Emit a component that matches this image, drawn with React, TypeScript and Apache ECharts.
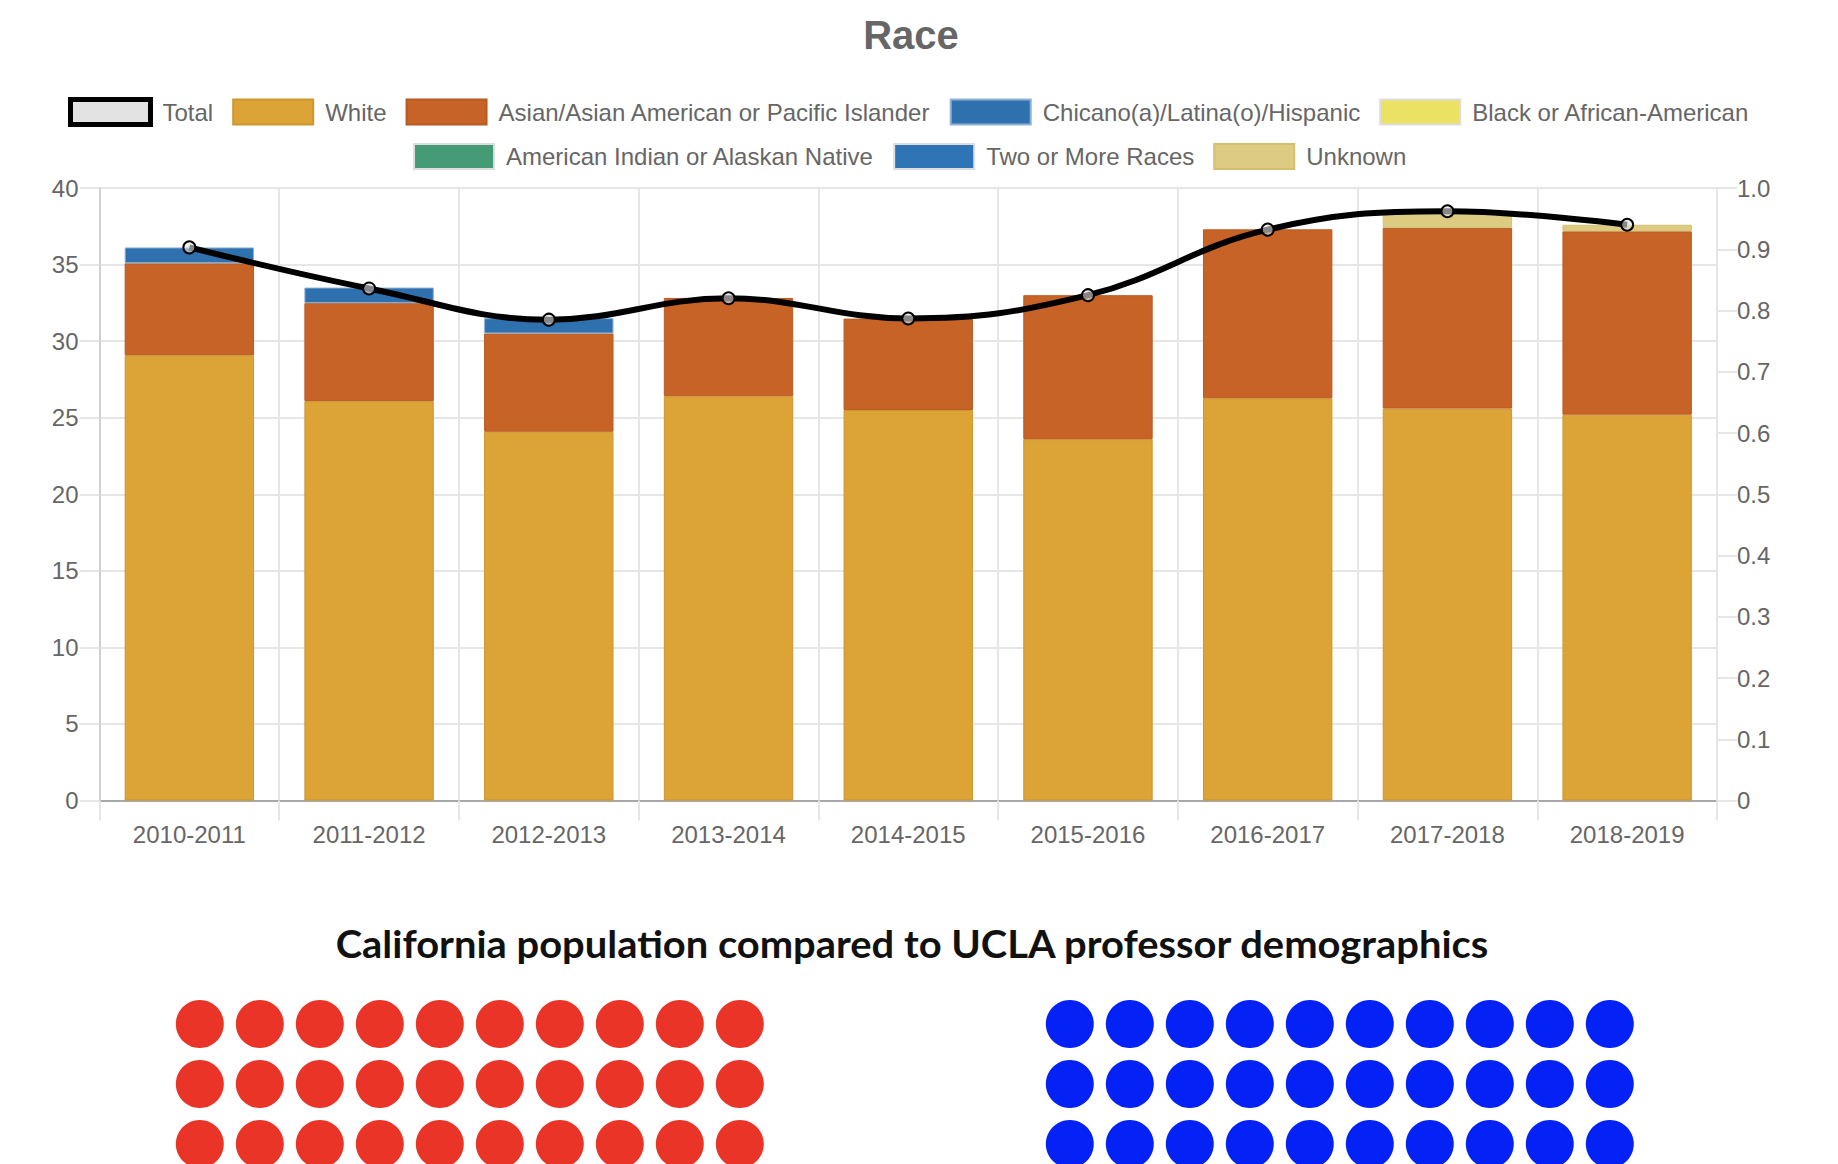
import React, { useEffect, useRef } from "react";
import * as echarts from "echarts";

// ---------- data ----------
const categories = [
  "2010-2011", "2011-2012", "2012-2013", "2013-2014", "2014-2015",
  "2015-2016", "2016-2017", "2017-2018", "2018-2019",
];
const white = [29.08, 26.08, 24.08, 26.4, 25.5, 23.6, 26.27, 25.6, 25.2];
const asian = [6.0, 6.4, 6.42, 6.42, 5.97, 9.4, 11.03, 11.8, 11.97];
const hispanic = [1.04, 1.02, 1.0, 0, 0, 0, 0, 0, 0];
const black = [0, 0, 0, 0, 0, 0, 0, 0, 0];
const amIndian = [0, 0, 0, 0, 0, 0, 0, 0, 0];
const twoOrMore = [0, 0, 0, 0, 0, 0, 0, 0, 0];
const unknown = [0, 0, 0, 0, 0, 0, 0, 1.04, 0.43];
const total = [0.903, 0.836, 0.785, 0.82, 0.787, 0.825, 0.932, 0.962, 0.94];

const leftAxis = { min: 0, max: 40, step: 5 };
const rightAxis = { min: 0, max: 1, step: 0.1 };

const chartTitle = "Race";
const lowerTitle = "California population compared to UCLA professor demographics";
const californiaDots = 30;
const professorDots = 30;
const dotsPerRow = 10;

// ---------- styling ----------
const FONT = "'Liberation Sans', Arial, Helvetica, sans-serif";
const GRID = "#e6e6e6";

const barDefs = [
  { name: "White", data: white, color: "#dca337", border: "#cf962c" },
  { name: "Asian/Asian American or Pacific Islander", data: asian, color: "#c76327", border: "#b95a22" },
  { name: "Chicano(a)/Latina(o)/Hispanic", data: hispanic, color: "#2f70ae", border: "#8fb2d4" },
  { name: "Black or African-American", data: black, color: "#ebe162", border: "#ddd" },
  { name: "American Indian or Alaskan Native", data: amIndian, color: "#449b76", border: "#ddd" },
  { name: "Two or More Races", data: twoOrMore, color: "#2f74b5", border: "#ddd" },
  { name: "Unknown", data: unknown, color: "#dccb80", border: "#d2c070" },
];

function dotData(count: number) {
  return Array.from({ length: count }, (_, i) => [i % dotsPerRow, Math.floor(i / dotsPerRow)]);
}

function buildOption() {
  const barSeries = barDefs.map((b) => ({
    type: "bar",
    name: b.name,
    stack: "race",
    xAxisIndex: 0,
    yAxisIndex: 0,
    barWidth: "72%",
    data: b.data.map((v) => (v === 0 ? null : v)),
    itemStyle: { color: b.color, borderColor: b.border, borderWidth: 1 },
    z: 2,
  }));

  const legendText = { fontSize: 24, color: "#666", fontFamily: FONT, padding: [0, 0, 0, 7] };

  return {
    animation: false,
    backgroundColor: "#ffffff",
    graphic: [
      {
        type: "text",
        x: 911,
        y: 35,
        style: {
          text: chartTitle,
          fontSize: 40,
          fontWeight: "bold",
          fontFamily: FONT,
          fill: "#666",
          align: "center",
          verticalAlign: "middle",
        },
      },
      {
        type: "text",
        x: 912,
        y: 943,
        scaleX: 1.05,
        style: {
          text: lowerTitle,
          fontSize: 38,
          fontWeight: "bold",
          fontFamily: "Lato, 'Open Sans', sans-serif",
          fill: "#111",
          align: "center",
          verticalAlign: "middle",
        },
      },
    ],
    legend: [
      {
        top: 97,
        left: 68,
        padding: 0,
        itemWidth: 80,
        itemHeight: 25,
        itemGap: 19,
        textStyle: legendText,
        data: [
          { name: "Total", icon: "rect", itemStyle: { color: "#e3e3e3", borderColor: "#000", borderWidth: 5 } },
          { name: barDefs[0].name, icon: "rect" },
          { name: barDefs[1].name, icon: "rect" },
          { name: barDefs[2].name, icon: "rect" },
          { name: barDefs[3].name, icon: "rect" },
        ],
      },
      {
        top: 143,
        left: 413,
        padding: 0,
        itemWidth: 80,
        itemHeight: 25,
        itemGap: 19,
        textStyle: legendText,
        data: [
          { name: barDefs[4].name, icon: "rect" },
          { name: barDefs[5].name, icon: "rect" },
          { name: barDefs[6].name, icon: "rect" },
        ],
      },
    ],
    grid: [
      { left: 99.5, top: 188, width: 1617.5, height: 612.5, containLabel: false },
      { left: 169.8, top: 994, width: 600, height: 168 },
      { left: 1039.8, top: 994, width: 600, height: 168 },
    ],
    xAxis: [
      {
        type: "category",
        gridIndex: 0,
        data: categories,
        boundaryGap: true,
        axisLine: { show: true, lineStyle: { color: "#a8a8a8", width: 2 } },
        axisTick: { show: true, length: 20, lineStyle: { color: GRID, width: 2 } },
        axisLabel: { color: "#666", fontSize: 24, fontFamily: FONT, margin: 22 },
        splitLine: { show: true, lineStyle: { color: GRID, width: 2 } },
      },
      { type: "value", gridIndex: 1, min: -0.5, max: 9.5, show: false },
      { type: "value", gridIndex: 2, min: -0.5, max: 9.5, show: false },
    ],
    yAxis: [
      {
        type: "value",
        gridIndex: 0,
        position: "left",
        min: leftAxis.min,
        max: leftAxis.max,
        interval: leftAxis.step,
        axisLine: { show: true, lineStyle: { color: "#cfcfcf", width: 2 } },
        axisTick: { show: true, length: 20, lineStyle: { color: GRID, width: 2 } },
        axisLabel: { color: "#666", fontSize: 24, fontFamily: FONT, margin: 21 },
        splitLine: { show: true, lineStyle: { color: GRID, width: 2 } },
      },
      {
        type: "value",
        gridIndex: 0,
        position: "right",
        min: rightAxis.min,
        max: rightAxis.max,
        interval: rightAxis.step,
        axisLine: { show: true, lineStyle: { color: GRID, width: 2 } },
        axisTick: { show: true, length: 20, lineStyle: { color: GRID, width: 2 } },
        axisLabel: {
          color: "#666",
          fontSize: 24,
          fontFamily: FONT,
          margin: 20,
          formatter: (v: number) => (v === 0 ? "0" : v.toFixed(1)),
        },
        splitLine: { show: false },
      },
      { type: "value", gridIndex: 1, min: -0.5, max: 2.3, inverse: true, show: false },
      { type: "value", gridIndex: 2, min: -0.5, max: 2.3, inverse: true, show: false },
    ],
    series: [
      ...barSeries,
      {
        type: "line",
        name: "Total",
        xAxisIndex: 0,
        yAxisIndex: 1,
        data: total,
        smooth: 0.4,
        symbol: "circle",
        symbolSize: 12,
        lineStyle: { color: "#000", width: 6 },
        itemStyle: { color: "rgba(225,225,225,0.6)", borderColor: "#000", borderWidth: 2 },
        z: 5,
      },
      {
        type: "scatter",
        name: "California population",
        xAxisIndex: 1,
        yAxisIndex: 2,
        data: dotData(californiaDots),
        symbol: "circle",
        symbolSize: 48,
        itemStyle: { color: "#e93427", opacity: 1 },
        clip: false,
      },
      {
        type: "scatter",
        name: "UCLA professors",
        xAxisIndex: 2,
        yAxisIndex: 3,
        data: dotData(professorDots),
        symbol: "circle",
        symbolSize: 48,
        itemStyle: { color: "#0422f5", opacity: 1 },
        clip: false,
      },
    ],
  };
}

export default function App() {
  const ref = useRef<HTMLDivElement>(null);
  useEffect(() => {
    const chart = echarts.init(ref.current as HTMLDivElement, null, { renderer: "svg" });
    chart.setOption(buildOption() as any);
    return () => chart.dispose();
  }, []);
  return (
    <div
      ref={ref}
      style={{ position: "absolute", left: 0, top: 0, width: 1838, height: 1164, background: "#fff" }}
    />
  );
}
